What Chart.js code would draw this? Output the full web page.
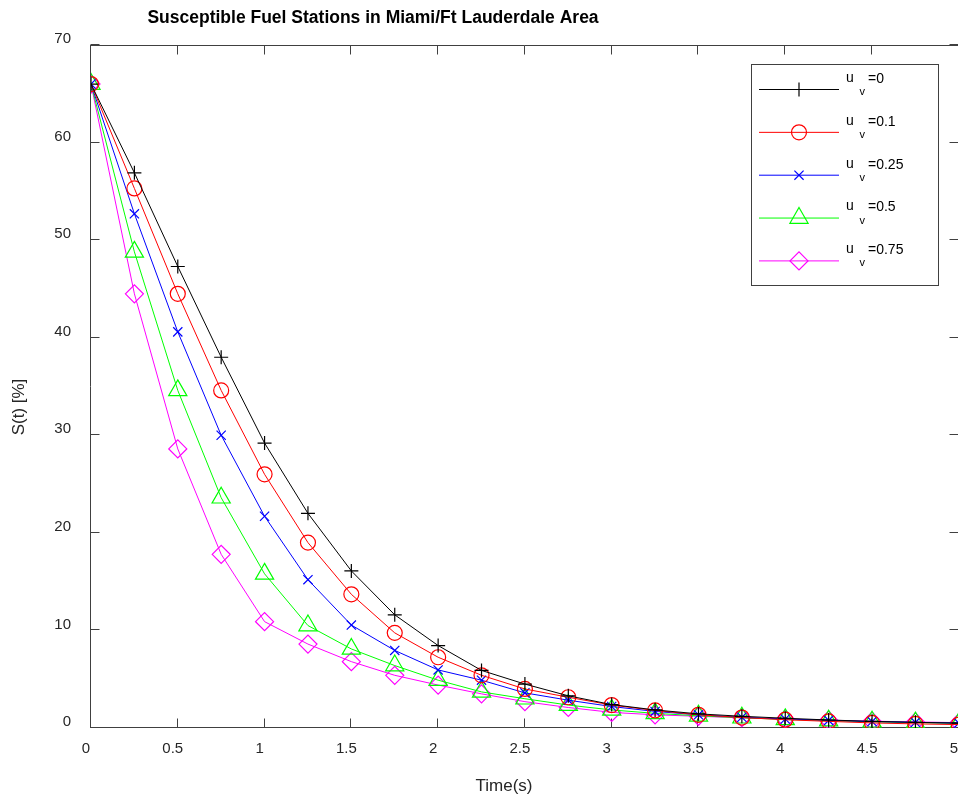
<!DOCTYPE html>
<html>
<head>
<meta charset="utf-8">
<script src="https://cdn.jsdelivr.net/npm/chart.js@4/dist/chart.umd.min.js"></script>
<style>
  html, body { margin: 0; padding: 0; background: #fff; overflow: hidden; }
  #wrap { width: 975px; height: 795px; }
</style>
</head>
<body>
<div id="wrap"><canvas id="myChart" width="975" height="795"></canvas></div>
<script>
// Time axis samples (s)
var times = [0, 0.25, 0.5, 0.75, 1, 1.25, 1.5, 1.75, 2, 2.25, 2.5,
             2.75, 3, 3.25, 3.5, 3.75, 4, 4.25, 4.5, 4.75, 5];

// S(t) [%] for each u_v value
var uValues = ["0", "0.1", "0.25", "0.5", "0.75"];
var sU0   = [66, 56.9, 47.3, 38.0, 29.2, 22.0, 16.1, 11.6, 8.45, 5.9, 4.5,
             3.3, 2.4, 1.85, 1.45, 1.2, 1.0, 0.82, 0.68, 0.58, 0.5];
var sU01  = [66, 55.3, 44.5, 34.6, 26.0, 19.0, 13.7, 9.75, 7.25, 5.4, 4.0,
             3.15, 2.35, 1.8, 1.35, 1.07, 0.85, 0.68, 0.52, 0.42, 0.35];
var sU025 = [66, 52.7, 40.6, 30.0, 21.7, 15.2, 10.55, 7.95, 5.95, 4.9, 3.6,
             2.85, 2.2, 1.7, 1.35, 1.1, 0.92, 0.78, 0.66, 0.58, 0.5];
var sU05  = [66, 48.8, 34.6, 23.6, 15.8, 10.5, 8.1, 6.4, 4.9, 3.7, 3.0,
             2.35, 1.85, 1.5, 1.25, 1.05, 0.88, 0.75, 0.64, 0.55, 0.48];
var sU075 = [66, 44.5, 28.6, 17.8, 10.9, 8.6, 6.8, 5.4, 4.4, 3.5, 2.7,
             2.1, 1.6, 1.35, 1.2, 1.05, 0.92, 0.8, 0.7, 0.62, 0.55];

// Tick labels
var xTicks = [0, 0.5, 1, 1.5, 2, 2.5, 3, 3.5, 4, 4.5, 5];
var yTicks = [0, 10, 20, 30, 40, 50, 60, 70];

var FONT = "'Liberation Sans', Arial, sans-serif";
var AXIS_COLOR = "#404040";
var TEXT_COLOR = "#262626";

function toPoints(values) {
  return times.map(function (t, i) { return { x: t, y: values[i] }; });
}

function series(values, color, style, radius) {
  return {
    label: "u_v",
    data: toPoints(values),
    borderColor: color,
    borderWidth: 1,
    pointStyle: style,
    pointRadius: radius,
    pointHoverRadius: radius,
    pointBorderColor: color,
    pointBackgroundColor: "rgba(0,0,0,0)",
    pointBorderWidth: 1.2,
    tension: 0,
    fill: false
  };
}

var datasets = [
  series(sU0,   "#000000", "cross",    7),
  series(sU01,  "#ff0000", "circle",   7.5),
  series(sU025, "#0000ff", "crossRot", 6.5),
  series(sU05,  "#00ff00", "triangle", 10.5),
  series(sU075, "#ff00ff", "rectRot",  9)
];

// axes box with inward tick marks on all four sides
var framePlugin = {
  id: "frame",
  beforeDatasetsDraw: function (chart) {
    var ctx = chart.ctx, a = chart.chartArea;
    var xs = chart.scales.x, ys = chart.scales.y;
    var L = Math.floor(a.left) - 0.5, R = Math.floor(a.right) + 0.5;
    var T = Math.floor(a.top) + 0.5, B = Math.floor(a.bottom) - 0.5;
    var len = 9;
    ctx.save();
    ctx.strokeStyle = AXIS_COLOR;
    ctx.lineWidth = 1;
    ctx.beginPath();
    ctx.moveTo(L, T); ctx.lineTo(R, T);
    ctx.moveTo(L, B); ctx.lineTo(R, B);
    ctx.moveTo(L, T - 0.5); ctx.lineTo(L, B + 0.5);
    ctx.moveTo(R, T - 0.5); ctx.lineTo(R, B + 0.5);
    xTicks.forEach(function (v) {
      var px = Math.round(xs.getPixelForValue(v)) - 0.5;
      ctx.moveTo(px, B); ctx.lineTo(px, B - len);
      ctx.moveTo(px, T); ctx.lineTo(px, T + len);
    });
    yTicks.forEach(function (v) {
      var py = Math.round(ys.getPixelForValue(v)) - 0.5;
      ctx.moveTo(L, py); ctx.lineTo(L + len, py);
      ctx.moveTo(R, py); ctx.lineTo(R - len, py);
    });
    ctx.stroke();
    ctx.restore();
  }
};

// title, axis titles and the boxed legend
var textPlugin = {
  id: "texts",
  afterDraw: function (chart) {
    var ctx = chart.ctx;
    ctx.save();
    ctx.fillStyle = "#000";
    ctx.textAlign = "center";
    ctx.textBaseline = "middle";
    ctx.font = "bold 17.5px " + FONT;
    ctx.fillText("Susceptible Fuel Stations in Miami/Ft Lauderdale Area", 373, 18);

    ctx.fillStyle = TEXT_COLOR;
    ctx.font = "17px " + FONT;
    ctx.fillText("Time(s)", 504, 786);
    ctx.save();
    ctx.translate(19, 407);
    ctx.rotate(-Math.PI / 2);
    ctx.fillText("S(t) [%]", 0, 0);
    ctx.restore();

    // legend
    var bx = 751.5, by = 64.5, bw = 187, bh = 221;
    ctx.fillStyle = "#fff";
    ctx.fillRect(bx, by, bw, bh);
    ctx.strokeStyle = AXIS_COLOR;
    ctx.lineWidth = 1;
    ctx.strokeRect(bx, by, bw, bh);

    chart.data.datasets.forEach(function (ds, i) {
      var ry = 89.5 + i * 42.85;
      ctx.strokeStyle = ds.borderColor;
      ctx.lineWidth = 1;
      ctx.beginPath();
      ctx.moveTo(759, ry);
      ctx.lineTo(839, ry);
      ctx.stroke();
      ctx.lineWidth = ds.pointBorderWidth;
      ctx.fillStyle = "rgba(0,0,0,0)";
      Chart.helpers.drawPoint(ctx, {
        pointStyle: ds.pointStyle,
        radius: ds.pointRadius,
        borderWidth: ds.pointBorderWidth
      }, 799, ry);

      ctx.fillStyle = "#000";
      ctx.textAlign = "left";
      ctx.textBaseline = "middle";
      ctx.font = "14px " + FONT;
      ctx.fillText("u", 846, ry - 11.5);
      ctx.fillText("=" + uValues[i], 868, ry - 10.5);
      ctx.font = "11px " + FONT;
      ctx.fillText("v", 859.5, ry + 2.5);
    });
    ctx.restore();
  }
};

var ctx = document.getElementById("myChart").getContext("2d");

var myChart = new Chart(ctx, {
  type: "line",
  data: { datasets: datasets },
  options: {
    responsive: false,
    animation: false,
    events: [],
    layout: { padding: { top: 45, right: 16, left: 0, bottom: 0 } },
    plugins: {
      legend: { display: false },
      title: { display: false },
      tooltip: { enabled: false }
    },
    scales: {
      x: {
        type: "linear",
        min: 0,
        max: 5,
        afterBuildTicks: function (s) { s.ticks = xTicks.map(function (v) { return { value: v }; }); },
        afterFit: function (s) { s.height = 67; },
        grid: { display: false, drawTicks: false },
        border: { display: false },
        ticks: {
          padding: 12,
          labelOffset: -5,
          autoSkip: false,
          maxRotation: 0,
          color: TEXT_COLOR,
          font: { family: FONT, size: 15 },
          callback: function (v) { return String(v); }
        }
      },
      y: {
        type: "linear",
        min: 0,
        max: 70,
        afterBuildTicks: function (s) { s.ticks = yTicks.map(function (v) { return { value: v }; }); },
        afterFit: function (s) { s.width = 91; },
        grid: { display: false, drawTicks: false },
        border: { display: false },
        ticks: {
          padding: 20,
          labelOffset: -6,
          autoSkip: false,
          color: TEXT_COLOR,
          font: { family: FONT, size: 15 },
          callback: function (v) { return String(v); }
        }
      }
    }
  },
  plugins: [framePlugin, textPlugin]
});
</script>
</body>
</html>
